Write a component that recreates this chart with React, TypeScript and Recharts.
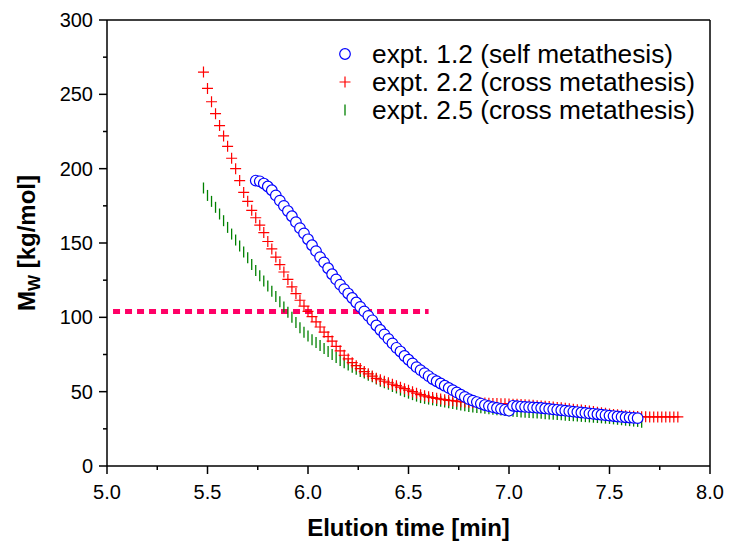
import { ScatterChart, Scatter, XAxis, YAxis, ReferenceLine, Legend } from 'recharts';

const FONT = '"Liberation Sans", Arial, sans-serif';

const xMajorTicks = [5.0, 5.5, 6.0, 6.5, 7.0, 7.5, 8.0];
const xMinorTicks = [5.25, 5.75, 6.25, 6.75, 7.25, 7.75];
const yMajorTicks = [0, 50, 100, 150, 200, 250, 300];
const yMinorTicks = [25, 75, 125, 175, 225, 275];

const seriesNames = [
    'expt. 1.2 (self metathesis)',
    'expt. 2.2 (cross metathesis)',
    'expt. 2.5 (cross metathesis)',
];

// dotted target level [kg/mol] and its time span [min]
const targetMw = 104;
const targetSpan = [5.03, 6.6];

// [elution time (min), Mw (kg/mol)]
const expt12: [number, number][] = [
    [5.74, 192], [5.76, 191.5], [5.78, 190], [5.8, 188], [5.82, 185.5], [5.84, 182], [5.86, 178.5], [5.88, 175],
    [5.9, 171.5], [5.92, 168], [5.94, 164], [5.96, 160], [5.98, 156.5], [6.0, 152.5], [6.02, 148.5], [6.04, 144.5],
    [6.06, 140.5], [6.08, 137], [6.1, 133], [6.12, 129], [6.14, 125.5], [6.16, 122], [6.18, 119], [6.2, 116],
    [6.22, 113], [6.24, 110], [6.26, 107], [6.28, 104], [6.3, 101], [6.32, 98], [6.34, 94.5], [6.36, 91.5],
    [6.38, 88.5], [6.4, 85.5], [6.42, 82.5], [6.44, 79.5], [6.46, 77], [6.48, 74], [6.5, 71.5], [6.52, 69],
    [6.54, 66.5], [6.56, 64.5], [6.58, 62.5], [6.6, 60.5], [6.62, 58.5], [6.64, 57], [6.66, 55.5], [6.68, 54],
    [6.7, 52.5], [6.72, 51], [6.74, 49.5], [6.76, 48], [6.78, 46.5], [6.8, 45], [6.82, 44], [6.84, 43],
    [6.86, 42], [6.88, 41], [6.9, 40.3], [6.92, 39.6], [6.94, 39], [6.96, 38.4], [6.98, 37.8], [7.0, 37.2],
    [7.02, 40.5], [7.04, 40.2], [7.06, 40], [7.08, 39.8], [7.1, 39.6], [7.12, 39.4], [7.14, 39.2], [7.16, 39],
    [7.18, 38.7], [7.2, 38.4], [7.22, 38.1], [7.24, 37.8], [7.26, 37.5], [7.28, 37.2], [7.3, 36.9], [7.32, 36.6],
    [7.34, 36.3], [7.36, 36], [7.38, 35.7], [7.4, 35.4], [7.42, 35.1], [7.44, 34.8], [7.46, 34.5], [7.48, 34.2],
    [7.5, 33.9], [7.52, 33.6], [7.54, 33.3], [7.56, 33], [7.58, 32.8], [7.6, 32.6], [7.62, 32.4], [7.64, 32.2],
];

const expt22: [number, number][] = [
    [5.48, 265], [5.5, 254], [5.52, 245], [5.54, 237], [5.56, 229], [5.58, 222], [5.6, 215], [5.62, 207],
    [5.64, 200], [5.66, 192], [5.68, 184], [5.7, 178], [5.72, 172], [5.74, 167], [5.76, 162], [5.78, 157],
    [5.8, 151], [5.82, 146], [5.84, 140.5], [5.86, 135.5], [5.88, 130.5], [5.9, 125.5], [5.92, 120.5], [5.94, 116],
    [5.96, 111.5], [5.98, 107.5], [6.0, 104], [6.02, 100.5], [6.04, 97], [6.06, 93.5], [6.08, 90], [6.1, 87],
    [6.12, 84], [6.14, 80.5], [6.16, 77.5], [6.18, 74.5], [6.2, 72], [6.22, 69.5], [6.24, 67.5], [6.26, 65.5],
    [6.28, 63.5], [6.3, 62], [6.32, 60.5], [6.34, 59], [6.36, 58], [6.38, 57], [6.4, 56], [6.42, 55],
    [6.44, 54], [6.46, 53], [6.48, 52], [6.5, 51], [6.52, 50], [6.54, 49], [6.56, 48], [6.58, 47.2],
    [6.6, 46.5], [6.62, 46], [6.64, 45.5], [6.66, 45], [6.68, 44.6], [6.7, 44.2], [6.72, 43.9], [6.74, 43.6],
    [6.76, 43.3], [6.78, 43.1], [6.8, 42.9], [6.82, 42.7], [6.84, 42.5], [6.86, 42.4], [6.88, 42.3], [6.9, 42.2],
    [6.92, 42.1], [6.94, 42], [6.96, 41.9], [6.98, 41.8], [7.0, 41.7], [7.02, 41.6], [7.04, 41.5], [7.06, 41.4],
    [7.08, 41.2], [7.1, 41], [7.12, 40.8], [7.14, 40.6], [7.16, 40.4], [7.18, 40.2], [7.2, 40], [7.22, 39.7],
    [7.24, 39.4], [7.26, 39.1], [7.28, 38.8], [7.3, 38.5], [7.32, 38.2], [7.34, 37.9], [7.36, 37.6], [7.38, 37.3],
    [7.4, 37], [7.42, 36.6], [7.44, 36.2], [7.46, 35.8], [7.48, 35.4], [7.5, 35], [7.52, 34.7], [7.54, 34.4],
    [7.56, 34.1], [7.58, 33.8], [7.6, 33.6], [7.62, 33.4], [7.64, 33.3], [7.66, 33.2], [7.68, 33.1], [7.7, 33],
    [7.72, 33], [7.74, 33], [7.76, 33], [7.78, 33], [7.8, 33], [7.82, 33], [7.84, 33],
];

const expt25: [number, number][] = [
    [5.48, 187], [5.5, 182], [5.52, 178], [5.54, 174], [5.56, 169.5], [5.58, 165], [5.6, 160.5], [5.62, 156],
    [5.64, 152], [5.66, 148], [5.68, 144], [5.7, 140], [5.72, 135.5], [5.74, 131.5], [5.76, 128], [5.78, 124.5],
    [5.8, 121], [5.82, 117.5], [5.84, 114], [5.86, 110.5], [5.88, 107], [5.9, 103.5], [5.92, 100], [5.94, 96.5],
    [5.96, 93], [5.98, 90], [6.0, 87.5], [6.02, 85], [6.04, 83], [6.06, 81], [6.08, 79], [6.1, 77],
    [6.12, 75], [6.14, 73], [6.16, 71], [6.18, 69.5], [6.2, 68], [6.22, 66.5], [6.24, 65], [6.26, 63.5],
    [6.28, 62.5], [6.3, 61], [6.32, 60], [6.34, 58.5], [6.36, 57], [6.38, 56], [6.4, 55], [6.42, 53.5],
    [6.44, 52.5], [6.46, 51], [6.48, 50], [6.5, 49], [6.52, 48], [6.54, 47], [6.56, 46], [6.58, 45.5],
    [6.6, 45], [6.62, 44.5], [6.64, 44], [6.66, 43.5], [6.68, 43], [6.7, 42.5], [6.72, 42], [6.74, 41.5],
    [6.76, 41], [6.78, 40.5], [6.8, 40], [6.82, 39.7], [6.84, 39.4], [6.86, 39.1], [6.88, 38.8], [6.9, 38.5],
    [6.92, 38.2], [6.94, 37.9], [6.96, 37.6], [6.98, 37.3], [7.0, 37], [7.02, 36.8], [7.04, 36.6], [7.06, 36.4],
    [7.08, 36.2], [7.1, 36], [7.12, 35.8], [7.14, 35.6], [7.16, 35.4], [7.18, 35.2], [7.2, 35], [7.22, 34.8],
    [7.24, 34.6], [7.26, 34.4], [7.28, 34.2], [7.3, 34], [7.32, 33.8], [7.34, 33.6], [7.36, 33.4], [7.38, 33.2],
    [7.4, 33], [7.42, 32.8], [7.44, 32.6], [7.46, 32.4], [7.48, 32.2], [7.5, 32], [7.52, 31.7], [7.54, 31.4],
    [7.56, 31.1], [7.58, 30.8], [7.6, 30.5], [7.62, 30.2], [7.64, 30], [7.66, 29.5],
];

const toPoints = (rows: [number, number][]) => rows.map(([t, mw]) => ({ t, mw }));

const BLUE = '#0000ff';
const RED = '#ff0000';
const GREEN = '#008000';

const CircleMark = (p: any) => (
    <circle cx={p.cx} cy={p.cy} r={5.3} fill="#fff" stroke={BLUE} strokeWidth={1.2} />
);
const CrossMark = (p: any) => (
    <path d={`M${p.cx - 5.5},${p.cy}H${p.cx + 5.5}M${p.cx},${p.cy - 5.5}V${p.cy + 5.5}`} stroke={RED} strokeWidth={1.2} fill="none" />
);
const TickMark = (p: any) => (
    <path d={`M${p.cx},${p.cy - 5.5}V${p.cy + 5.5}`} stroke={GREEN} strokeWidth={1.3} fill="none" />
);

function XTick({ x, y, payload }: any) {
    const major = xMajorTicks.includes(payload.value);
    return (
        <g>
            <line x1={x} y1={y} x2={x} y2={y + (major ? 8 : 4)} stroke="#000" strokeWidth={1.5} />
            {major && (
                <text x={x} y={y + 33} textAnchor="middle" fontFamily={FONT} fontSize={20} fill="#000">
                    {payload.value.toFixed(1)}
                </text>
            )}
        </g>
    );
}

function YTick({ x, y, payload }: any) {
    const major = yMajorTicks.includes(payload.value);
    return (
        <g>
            <line x1={x} y1={y} x2={x - (major ? 8 : 4)} y2={y} stroke="#000" strokeWidth={1.5} />
            {major && (
                <text x={x - 14} y={y + 7} textAnchor="end" fontFamily={FONT} fontSize={20} fill="#000">
                    {payload.value}
                </text>
            )}
        </g>
    );
}

function XTitle({ viewBox }: any) {
    return (
        <text x={viewBox.x + viewBox.width / 2} y={viewBox.y + 70} textAnchor="middle" fontFamily={FONT} fontSize={24} fontWeight="bold" fill="#000">
            Elution time [min]
        </text>
    );
}

function YTitle({ viewBox }: any) {
    const cx = viewBox.x + 35;
    const cy = viewBox.y + viewBox.height / 2;
    return (
        <text x={cx} y={cy} transform={`rotate(-90 ${cx} ${cy})`} textAnchor="middle" fontFamily={FONT} fontSize={24} fontWeight="bold" fill="#000">
            <tspan>M</tspan>
            <tspan dy={5} fontSize={17}>W</tspan>
            <tspan dy={-5}> [kg/mol]</tspan>
        </text>
    );
}

const legendMarks = [
    <circle cx={11} cy={14} r={5.3} fill="#fff" stroke={BLUE} strokeWidth={1.2} />,
    <path d="M5.5,14H16.5M11,8.5V19.5" stroke={RED} strokeWidth={1.2} />,
    <path d="M11,8.5V19.5" stroke={GREEN} strokeWidth={1.3} />,
];

function LegendBox() {
    return (
        <div style={{ fontFamily: FONT, fontSize: 26.3, color: '#000' }}>
            {seriesNames.map((name, i) => (
                <div key={name} style={{ display: 'flex', alignItems: 'center', height: 28, whiteSpace: 'nowrap' }}>
                    <svg width={26} height={28}>{legendMarks[i]}</svg>
                    <span style={{ marginLeft: 12 }}>{name}</span>
                </div>
            ))}
        </div>
    );
}

export default function App() {
    const xTicks = [...xMajorTicks, ...xMinorTicks].sort((a, b) => a - b);
    const yTicks = [...yMajorTicks, ...yMinorTicks].sort((a, b) => a - b);
    return (
        <div style={{ width: 730, height: 543, background: '#fff' }}>
            <style>{'body{margin:0}'}</style>
            <ScatterChart width={730} height={543} margin={{ top: 20, right: 20, bottom: 0, left: 0 }}>
                <XAxis
                    type="number"
                    dataKey="t"
                    domain={[5, 8]}
                    ticks={xTicks}
                    interval={0}
                    tickSize={0}
                    tickMargin={0}
                    tickLine={false}
                    tick={<XTick />}
                    height={77}
                    axisLine={{ stroke: '#000', strokeWidth: 1.5 }}
                    allowDataOverflow
                    label={{ content: <XTitle /> }}
                />
                <YAxis
                    type="number"
                    dataKey="mw"
                    domain={[0, 300]}
                    ticks={yTicks}
                    interval={0}
                    tickSize={0}
                    tickMargin={0}
                    tickLine={false}
                    tick={<YTick />}
                    width={107}
                    axisLine={{ stroke: '#000', strokeWidth: 1.5 }}
                    allowDataOverflow
                    label={{ content: <YTitle /> }}
                />
                <ReferenceLine y={300} stroke="#000" strokeWidth={1.5} />
                <ReferenceLine x={8} stroke="#000" strokeWidth={1.5} />
                <ReferenceLine
                    segment={[{ x: targetSpan[0], y: targetMw }, { x: targetSpan[1], y: targetMw }]}
                    stroke="#ff0066"
                    strokeWidth={5}
                    strokeDasharray="7 5"
                />
                <Scatter name={seriesNames[2]} data={toPoints(expt25)} shape={TickMark} isAnimationActive={false} />
                <Scatter name={seriesNames[1]} data={toPoints(expt22)} shape={CrossMark} isAnimationActive={false} />
                <Scatter name={seriesNames[0]} data={toPoints(expt12)} shape={CircleMark} isAnimationActive={false} />
                <Legend
                    layout="horizontal"
                    verticalAlign="middle"
                    align="center"
                    content={<LegendBox />}
                    wrapperStyle={{ top: 40, left: 334, width: 396 }}
                />
            </ScatterChart>
        </div>
    );
}
